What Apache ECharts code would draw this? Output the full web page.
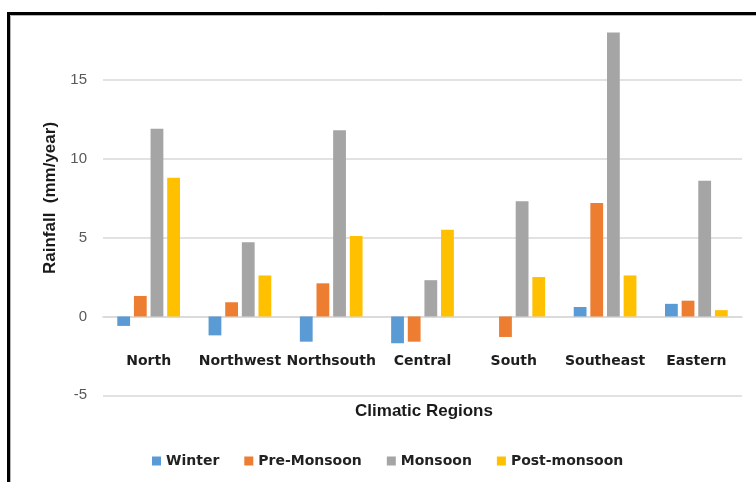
<!DOCTYPE html>
<html>
<head>
<meta charset="utf-8">
<title>Seasonal rainfall trends by climatic region</title>
<script src="https://cdn.jsdelivr.net/npm/echarts@6/dist/echarts.min.js"></script>
<style>
  html, body { margin: 0; padding: 0; background: #fff; }
  #chart { width: 756px; height: 482px; }
</style>
</head>
<body>
<div id="chart"></div>
<script>
// Climatic regions along the x axis
const categories = ['North', 'Northwest', 'Northsouth', 'Central', 'South', 'Southeast', 'Eastern'];

// Rainfall trend per season (mm/year)
const winter      = [-0.6, -1.2, -1.6, -1.7, 0,    0.6, 0.8];
const preMonsoon  = [1.3,  0.9,  2.1,  -1.6, -1.3, 7.2, 1.0];
const monsoon     = [11.9, 4.7,  11.8, 2.3,  7.3,  18.0, 8.6];
const postMonsoon = [8.8,  2.6,  5.1,  5.5,  2.5,  2.6, 0.4];

const seriesNames = ['Winter', 'Pre-Monsoon', 'Monsoon', 'Post-monsoon'];
const seriesData = [winter, preMonsoon, monsoon, postMonsoon];
const seriesColors = ['#5B9BD5', '#ED7D31', '#A5A5A5', '#FFC000'];

// Value axis range and step
const yMin = -5;
const yMax = 18;
const yStep = 5;

// Plot area geometry (px)
const gridTop = 32.6;
const gridBottom = 86.7;
const chartHeight = 482;
const plotHeight = chartHeight - gridTop - gridBottom;
// Distance from the bottom of the plot up to the zero line
const zeroLift = plotHeight * (0 - yMin) / (yMax - yMin);

const chart = echarts.init(document.getElementById('chart'), null, { renderer: 'canvas' });

const option = {
  animation: false,
  backgroundColor: '#ffffff',
  grid: {
    left: 103,
    right: 14,
    top: gridTop,
    bottom: gridBottom,
    containLabel: false,
    outerBoundsMode: 'none'
  },
  legend: {
    data: seriesNames,
    left: 152,
    top: 454,
    padding: 0,
    itemWidth: 9,
    itemHeight: 9,
    itemGap: 25,
    icon: 'rect',
    textStyle: {
      fontFamily: 'DejaVu Sans',
      fontWeight: 'bold',
      fontSize: 14,
      color: '#222222',
      padding: [0, 0, 0, 0]
    }
  },
  xAxis: {
    type: 'category',
    data: categories,
    position: 'bottom',
    // category axis sits on the zero line, labels hang below it
    offset: -zeroLift,
    axisLine: { onZero: false, lineStyle: { color: '#d9d9d9', width: 1.5 } },
    axisTick: { show: false },
    axisLabel: {
      interval: 0,
      margin: 38,
      fontFamily: 'DejaVu Sans',
      fontWeight: 'bold',
      fontSize: 14,
      color: '#1e1e1e'
    },
    splitLine: { show: false }
  },
  yAxis: {
    type: 'value',
    min: yMin,
    max: yMax,
    interval: yStep,
    axisLine: { show: false },
    axisTick: { show: false },
    axisLabel: {
      margin: 16,
      showMaxLabel: false,
      fontFamily: 'Liberation Sans',
      fontSize: 15,
      color: '#595959'
    },
    splitLine: {
      show: true,
      showMaxLine: false,
      lineStyle: { color: '#d9d9d9', width: 1.5 }
    }
  },
  series: seriesData.map((data, i) => ({
    name: seriesNames[i],
    type: 'bar',
    data: data,
    barWidth: 12.8,
    barGap: '30%',
    itemStyle: { color: seriesColors[i] }
  })),
  graphic: [
    {
      // Outer frame of the figure
      type: 'rect',
      silent: true,
      shape: { x: 8.5, y: 13.5, width: 800, height: 520 },
      style: { fill: 'none', stroke: '#000000', lineWidth: 3 }
    },
    {
      type: 'rect',
      silent: true,
      shape: { x: 10.5, y: 15.5, width: 800, height: 520 },
      style: { fill: 'none', stroke: '#b4b4b4', lineWidth: 1 }
    },
    {
      // Y axis title
      type: 'text',
      silent: true,
      x: 50,
      y: 198,
      rotation: Math.PI / 2,
      style: {
        text: 'Rainfall  (mm/year)',
        fontFamily: 'Liberation Sans',
        fontWeight: 'bold',
        fontSize: 17,
        fill: '#1a1a1a',
        align: 'center',
        verticalAlign: 'middle'
      }
    },
    {
      // X axis title
      type: 'text',
      silent: true,
      x: 424,
      y: 411,
      style: {
        text: 'Climatic Regions',
        fontFamily: 'Liberation Sans',
        fontWeight: 'bold',
        fontSize: 17,
        fill: '#1a1a1a',
        align: 'center',
        verticalAlign: 'middle'
      }
    }
  ]
};

chart.setOption(option);
</script>
</body>
</html>
